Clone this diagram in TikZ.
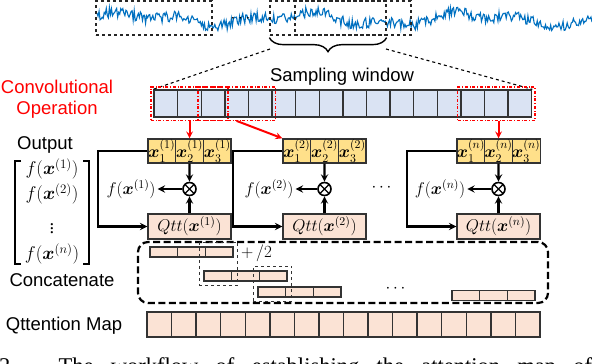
\RequirePackage{fix-cm}
\documentclass[tikz,border=0pt]{standalone}
\usepackage{amsmath,bm}
\usepackage{fontspec}
\setmainfont{Liberation Serif}
\setsansfont{Liberation Sans}
\usetikzlibrary{positioning,fit,decorations.pathreplacing}

\definecolor{sampblue}{HTML}{DAE3F3}
\definecolor{xyellow}{HTML}{FFE08A}
\definecolor{qpink}{HTML}{FBE3D5}
\definecolor{sigblue}{HTML}{0070C0}
\definecolor{cellline}{HTML}{333333}

\newcommand{\lblfont}{\fontsize{18.5}{21}\selectfont\sffamily}
\newcommand{\mfont}{\fontsize{17}{20}\selectfont}
\newcommand{\vecfont}{\fontsize{18.5}{21}\selectfont}
\newcommand{\capfont}{\fontsize{22.5}{26}\selectfont\rmfamily}

\tikzset{
  sampcell/.style={draw=cellline, fill=sampblue, line width=1.4pt, minimum width=23.6pt, minimum height=27pt, inner sep=0pt},
  xcell/.style={draw=cellline, fill=xyellow, line width=1.4pt, minimum width=27.7pt, minimum height=24pt, inner sep=0pt, font=\mfont},
  qbox/.style={draw=cellline, fill=qpink, line width=1.4pt, minimum width=83pt, minimum height=25pt, inner sep=0pt, font=\mfont},
  barcell/.style={draw=cellline, fill=qpink, line width=1.4pt, minimum width=27.7pt, minimum height=10pt, inner sep=0pt},
  mapcell/.style={draw=cellline, fill=qpink, line width=1.4pt, minimum width=24.56pt, minimum height=25pt, inner sep=0pt},
  mult/.style={circle, draw, line width=1.6pt, minimum size=13pt, inner sep=0pt, fill=white,
    path picture={\draw[line width=1.3pt] (path picture bounding box.north west) -- (path picture bounding box.south east)
      (path picture bounding box.north east) -- (path picture bounding box.south west);}},
  arr/.style={->, line width=2.2pt},
  redarr/.style={->, red, line width=2pt},
  convwin/.style={draw=red, dash dot, line width=1.4pt, inner sep=2.5pt},
  sigwin/.style={draw=black!85, dashed, line width=1.3pt, inner sep=0pt, minimum width=116pt, minimum height=34pt},
  ovbox/.style={draw=black!80, dashed, line width=1pt, inner sep=4pt},
  catbox/.style={draw, dashed, dash pattern=on 7pt off 3.5pt, line width=2.2pt, rounded corners=10pt},
  zoomline/.style={dashed, line width=1.1pt},
  lbl/.style={font=\lblfont, inner sep=0pt},
  vecentry/.style={font=\vecfont, inner sep=0pt},
}

\begin{document}
\begin{tikzpicture}[>=stealth, x=1pt, y=-1pt]
  \useasboundingbox (0,0) rectangle (592,364);

  % raw signal and windows
  \pgfmathsetseed{42}
  \draw[sigblue, line width=1.1pt] plot[domain=97:592, samples=480] (\x, {19 + 5*sin(2.1*\x) + 3*sin(5.3*\x+40) + 5.5*rand});
  \node[sigwin] (t1) at (154,18) {};
  \node[sigwin] (t2) at (328,18) {};
  \node[sigwin] (t3) at (353,18) {};
  \node[font=\mfont] (sdots) at (242,19) {$\cdots$};
  \draw[decorate, decoration={brace, mirror, amplitude=14pt}, line width=1.4pt] ([yshift=-2pt]t2.south west) -- ([yshift=-2pt]t2.south east);

  % sampling window
  \node[lbl] (swlbl) at (342,77) {Sampling window};
  \foreach \k in {1,...,16}
    \node[sampcell] (s\k) at ({154+23.6*(\k-0.5)},103.5) {};
  \coordinate (zl) at (270,49);
  \coordinate (zr) at (386,49);
  \draw[zoomline] (zl) -- (s1.north west);
  \draw[zoomline] (zr) -- (s16.north east);

  % convolution windows
  \node[convwin, fit=(s1)(s3)] (w1) {};
  \node[convwin, fit=(s3)(s5)] (w2) {};
  \node[convwin, fit=(s14)(s16)] (w3) {};
  \node[lbl, red, align=center] (convlbl) at (57,99) {Convolutional\\Operation};

  % attention units
  \foreach \g/\gx/\fx in {1/148/131, 2/283/269, n/457/440} {
    \foreach \k in {1,2,3}
      \node[xcell] (x\g\k) at ({\gx+27.7*(\k-0.5)},151) {$\bm{x}_{\k}^{(\g)}$};
    \node[qbox] (q\g) at ({\gx+41.5},226.5) {$Qtt(\bm{x}^{(\g)})$};
    \node[mult] (m\g) at ({\gx+41.5},189) {};
    \node[font=\mfont, inner sep=2pt] (f\g) at (\fx,189) {$f(\bm{x}^{(\g)})$};
    \draw[arr] (x\g2) -- (m\g);
    \draw[arr] (q\g) -- (m\g);
    \draw[arr] (m\g) -- (f\g);
    \draw[arr] (x\g1.west) -- ++(-49,0) |- (q\g.west);
  }
  \node[font=\mfont] (gdots) at (383,188) {$\cdots$};

  \draw[redarr] (x12.north |- w1.south) -- (x12.north);
  \draw[redarr] (w2.south) -- (x21.north west);
  \draw[redarr] (xn2.north |- w3.south) -- (xn2.north);

  % output vector
  \node[lbl] (outlbl) at (45,145) {Output};
  \node[vecentry] (o1) at (52,169) {$f(\bm{x}^{(1)})$};
  \node[vecentry] (o2) at (52,194) {$f(\bm{x}^{(2)})$};
  \node[vecentry] (ov) at (52,226) {$\vdots$};
  \node[vecentry] (on) at (52,254) {$f(\bm{x}^{(n)})$};
  \draw[line width=1.2pt] (21,161) -| (15,264) -- (21,264);
  \draw[line width=1.2pt] (83,161) -| (89,264) -- (83,264);

  % concatenation
  \node[lbl] (catlbl) at (62,280) {Concatenate};
  \node[catbox, minimum width=410pt, minimum height=61pt] (cat) at (343,272.5) {};
  \foreach \b/\bx/\by in {1/150/252, 2/204/276, 3/258/292, n/452/295.5}
    \foreach \k in {1,2,3}
      \node[barcell] (b\b\k) at ({\bx+27.7*(\k-0.5)},\by) {};
  \node[ovbox, fit=(b13)(b21)] (ov1) {};
  \node[ovbox, fit=(b23)(b31)] (ov2) {};
  \node[font=\mfont, anchor=west, inner sep=0pt] (half) at (241,253) {$+\,/2$};
  \node[font=\mfont] (cdots) at (397,289) {$\cdots$};

  % attention map
  \node[lbl] (maplbl) at (64,326) {Qttention Map};
  \foreach \k in {1,...,16}
    \node[mapcell] (a\k) at ({147+24.56*(\k-0.5)},324.5) {};

  \node[anchor=north west, inner sep=0pt, font=\capfont] (cap) at (-1,357) {\makebox[593pt][s]{2. The workflow of establishing the attention map of}};
\end{tikzpicture}
\end{document}
